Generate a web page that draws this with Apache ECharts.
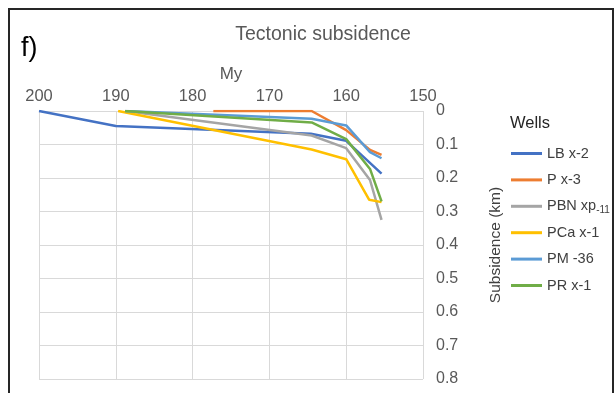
<!DOCTYPE html>
<html>
<head>
<meta charset="utf-8">
<script src="https://cdn.jsdelivr.net/npm/echarts@6/dist/echarts.min.js"></script>
<style>
  html, body { margin: 0; padding: 0; background: #fff; }
  #chart { width: 616px; height: 393px; }
</style>
</head>
<body>
<div id="chart"></div>
<script>
// Well names (legend order)
const wells = ['LB x-2', 'P x-3', 'PBN xp-11', 'PCa x-1', 'PM -36', 'PR x-1'];

// Age (My) and tectonic subsidence (km) for each well
const agesLB  = [200, 190, 164.6, 160, 155.4];
const subsLB  = [0, 0.045, 0.068, 0.089, 0.187];

const agesP   = [177.3, 164.5, 160, 156.9, 155.4];
const subsP   = [0, 0, 0.057, 0.116, 0.131];

const agesPBN = [188.8, 164.5, 160, 156.9, 155.4];
const subsPBN = [0, 0.073, 0.111, 0.206, 0.325];

const agesPCa = [189.7, 164.5, 160, 157.0, 155.4];
const subsPCa = [0, 0.115, 0.144, 0.265, 0.272];

const agesPM  = [188.8, 164.5, 160, 156.9, 155.4];
const subsPM  = [0, 0.023, 0.043, 0.123, 0.141];

const agesPR  = [188.8, 164.5, 160, 156.9, 155.4];
const subsPR  = [0, 0.034, 0.084, 0.173, 0.270];

// Axis tick labels
const ageTicks = [200, 190, 180, 170, 160, 150];
const depthTicks = ['0', '0.1', '0.2', '0.3', '0.4', '0.5', '0.6', '0.7', '0.8'];

const wellColors = ['#4472C4', '#ED7D31', '#A5A5A5', '#FFC000', '#5B9BD5', '#70AD47'];
const wellAges = [agesLB, agesP, agesPBN, agesPCa, agesPM, agesPR];
const wellSubs = [subsLB, subsP, subsPBN, subsPCa, subsPM, subsPR];

const FONT = '"Liberation Sans", Arial, sans-serif';

const chart = echarts.init(document.getElementById('chart'), null, { renderer: 'canvas' });

const series = wells.map((name, i) => ({
  name: name,
  type: 'line',
  data: wellAges[i].map((a, k) => [a, wellSubs[i][k]]),
  showSymbol: false,
  symbol: 'none',
  lineStyle: { color: wellColors[i], width: 2.5 },
  itemStyle: { color: wellColors[i] },
  animation: false
}));

chart.setOption({
  backgroundColor: '#fff',
  animation: false,
  title: [
    {
      text: 'Tectonic subsidence',
      left: 318, top: 20, textAlign: 'center',
      textStyle: { fontFamily: FONT, fontSize: 19.5, fontWeight: 'normal', color: '#595959' }
    },
    {
      text: 'f)',
      left: 16, top: 30,
      textStyle: { fontFamily: FONT, fontSize: 27, fontWeight: 'normal', color: '#000' }
    },
    {
      text: 'Wells',
      left: 505, top: 110,
      textStyle: { fontFamily: FONT, fontSize: 16.5, fontWeight: 'normal', color: '#262626' }
    }
  ],
  graphic: [
    {
      type: 'rect',
      shape: { x: 9, y: 9, width: 604, height: 420 },
      style: { fill: 'none', stroke: '#262626', lineWidth: 2 },
      silent: true
    }
  ],
  legend: {
    orient: 'vertical',
    left: 506, top: 140,
    itemWidth: 31, itemHeight: 3,
    itemGap: 9.4,
    icon: 'rect',
    data: wells,
    formatter: function (name) {
      if (name === 'PBN xp-11') return 'PBN xp{s|-11}';
      return name;
    },
    textStyle: {
      fontFamily: FONT, fontSize: 14.5, color: '#404040',
      lineHeight: 17,
      rich: {
        s: { fontFamily: FONT, fontSize: 10, color: '#404040', lineHeight: 17, verticalAlign: 'bottom', padding: [3, 0, 0, 0] }
      }
    }
  },
  grid: { left: 39, right: 193, top: 111, bottom: 14 },
  xAxis: {
    type: 'value',
    position: 'top',
    inverse: true,
    min: 150, max: 200, interval: 10,
    name: 'My',
    nameLocation: 'middle',
    nameGap: 26,
    nameTextStyle: { fontFamily: FONT, fontSize: 17, color: '#595959' },
    axisLine: { show: false },
    axisTick: { show: false },
    axisLabel: {
      margin: 6, fontFamily: FONT, fontSize: 16.5, color: '#595959',
      formatter: v => ageTicks.includes(v) ? String(v) : ''
    },
    splitLine: { show: true, lineStyle: { color: '#d9d9d9', width: 1 } }
  },
  yAxis: {
    type: 'value',
    position: 'right',
    inverse: true,
    min: 0, max: 0.8, interval: 0.1,
    name: 'Subsidence (km)',
    nameLocation: 'middle',
    nameGap: 65,
    nameTextStyle: { fontFamily: FONT, fontSize: 15.5, color: '#404040' },
    axisLine: { show: false },
    axisTick: { show: false },
    axisLabel: {
      margin: 13, fontFamily: FONT, fontSize: 16, color: '#595959',
      formatter: v => depthTicks[Math.round(v * 10)]
    },
    splitLine: { show: true, lineStyle: { color: '#d9d9d9', width: 1 } }
  },
  series: series
});
</script>
</body>
</html>
